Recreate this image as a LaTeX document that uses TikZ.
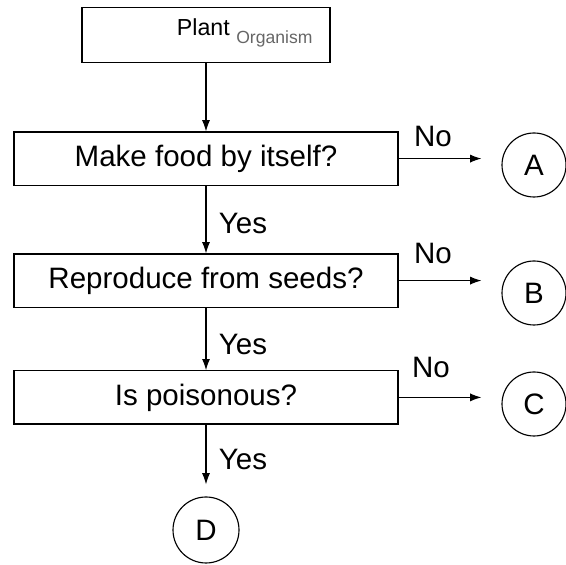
\documentclass[tikz,border=0pt]{standalone}
\usepackage{fontspec}
\setmainfont{Liberation Sans}
\usetikzlibrary{arrows.meta,positioning}

\begin{document}
\begin{tikzpicture}[font=\fontsize{21}{25}\selectfont,
	box/.style={draw,line width=0.8pt,minimum width=9.6cm,minimum height=1.33cm,inner sep=0pt},
	ans/.style={draw,line width=0.8pt,circle,minimum size=1.6cm,inner sep=0pt},
	flow/.style={-{Latex[length=2.8mm,width=2mm]},line width=0.8pt}]
	\useasboundingbox (0,0) rectangle (14.15,14.125); %page
	
	%boxes
		\node[box,minimum width=6.2cm,minimum height=1.375cm] (start) at (5.15,13.26) {}; %top box
		\node[anchor=west,font=\fontsize{16.5}{18}\selectfont] (startlbl) at (4.3,13.3) {Plant \raisebox{-0.7ex}{\fontsize{12.5}{14}\selectfont\color{black!60}Organism}}; %top label
		\node[box] (food) at (5.15,10.16) {Make food by itself?}; %question 1
		\node[box] (seeds) at (5.15,7.11) {Reproduce from seeds?}; %question 2
		\node[box] (poison) at (5.15,4.19) {Is poisonous?}; %question 3
		
	%answers
		\node[ans] (a) at (13.35,10.0) {A};
		\node[ans] (b) at (13.35,6.8) {B};
		\node[ans] (c) at (13.35,4.025) {C};
		\node[ans,minimum size=1.65cm] (d) at (5.15,0.875) {D};
		
	%arrows down
		\draw[flow] (start) -- (food);
		\draw[flow] (food) -- (seeds);
		\draw[flow] (seeds) -- (poison);
		\draw[flow,shorten >=0.3cm] (poison) -- (d);
		
	%arrows right
		\draw[flow,shorten >=0.5cm] (food.east) -- (food.east -| a.west);
		\draw[flow,shorten >=0.5cm] (seeds.east) -- (seeds.east -| b.west);
		\draw[flow,shorten >=0.5cm] (poison.east) -- (poison.east -| c.west);
		
	%labels
		\node (no1) at (10.825,10.72) {No}; %food no
		\node (no2) at (10.825,7.8) {No}; %seeds no
		\node (no3) at (10.775,4.95) {No}; %poison no
		\node[anchor=west] (yes1) at (5.35,8.54) {Yes}; %food yes
		\node[anchor=west] (yes2) at (5.35,5.525) {Yes}; %seeds yes
		\node[anchor=west] (yes3) at (5.35,2.65) {Yes}; %poison yes
		
\end{tikzpicture}
\end{document}
